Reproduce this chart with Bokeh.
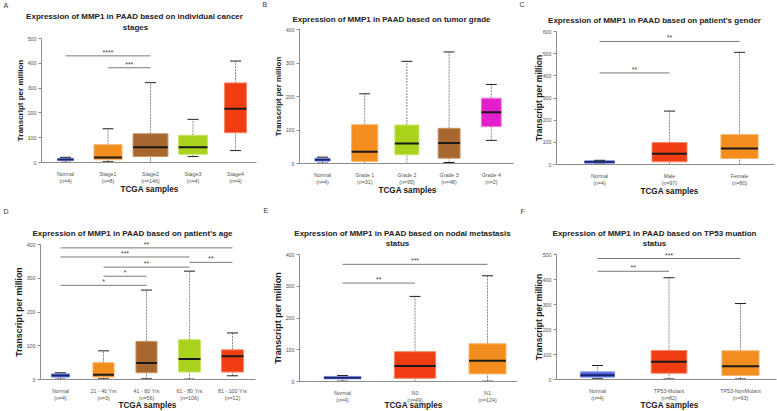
import math
from bokeh.plotting import figure
from bokeh.layouts import column, row
from bokeh.models import Range1d, FixedTicker
from bokeh.embed import file_html
from bokeh.resources import INLINE
from bokeh.core.properties import value

FONT = "Liberation Sans"

# ---- A: individual cancer stages ----
stage_groups = ["Normal", "Stage1", "Stage2", "Stage3", "Stage4"]
stage_n = [4, 8, 146, 4, 4]
stage_low = [1, 3, 0, 24, 48]
stage_q1 = [8, 11, 24, 33, 120]
stage_med = [12, 20, 61, 61, 217]
stage_q3 = [17, 72, 116, 110, 321]
stage_high = [21, 136, 322, 174, 409]
stage_sig_from = [1, 2]
stage_sig_to = [3, 3]
stage_sig_y = [430, 382]
stage_sig_text = ["****", "***"]

# ---- B: tumor grade ----
grade_groups = ["Normal", "Grade 1", "Grade 2", "Grade 3", "Grade 4"]
grade_n = [4, 31, 95, 48, 2]
grade_low = [1, 0, 0, 3, 69]
grade_q1 = [7, 6, 26, 16, 110]
grade_med = [11, 35, 60, 61, 153]
grade_q3 = [16, 116, 115, 105, 195]
grade_high = [19, 208, 305, 333, 236]

# ---- C: gender ----
gender_groups = ["Normal", "Male", "Female"]
gender_n = [4, 97, 80]
gender_low = [1, 0, 0]
gender_q1 = [5, 12, 27]
gender_med = [12, 48, 72]
gender_q3 = [16, 99, 135]
gender_high = [19, 241, 506]
gender_sig_from = [1, 1]
gender_sig_to = [3, 2]
gender_sig_y = [555, 413]
gender_sig_text = ["**", "**"]

# ---- D: age ----
age_groups = ["Normal", "21 - 40 Yrs", "41 - 60 Yrs", "61 - 80 Yrs", "81 - 100 Yrs"]
age_n = [4, 3, 56, 106, 12]
age_low = [1, 2, 2, 1, 11]
age_q1 = [7, 7, 20, 22, 22]
age_med = [12, 14, 49, 61, 69]
age_q3 = [17, 50, 113, 118, 88]
age_high = [20, 85, 265, 321, 138]
age_sig_from = [1, 1, 2, 4, 2, 1]
age_sig_to = [5, 4, 4, 5, 3, 3]
age_sig_y = [390, 363, 333, 347, 306, 279]
age_sig_text = ["**", "***", "**", "**", "*", "*"]

# ---- E: nodal metastasis ----
nodal_groups = ["Normal", "N0", "N1"]
nodal_n = [4, 49, 124]
nodal_low = [1, 0, 1]
nodal_q1 = [8, 10, 24]
nodal_med = [12, 49, 65]
nodal_q3 = [16, 94, 119]
nodal_high = [19, 268, 333]
nodal_sig_from = [1, 1]
nodal_sig_to = [3, 2]
nodal_sig_y = [369, 310]
nodal_sig_text = ["***", "**"]

# ---- F: TP53 mutation ----
tp53_groups = ["Normal", "TP53-Mutant", "TP53-NonMutant"]
tp53_n = [4, 82, 93]
tp53_low = [3, 2, 2]
tp53_q1 = [9, 25, 16]
tp53_med = [17, 71, 53]
tp53_q3 = [31, 116, 115]
tp53_high = [56, 407, 304]
tp53_sig_from = [1, 1]
tp53_sig_to = [3, 2]
tp53_sig_y = [484, 433]
tp53_sig_text = ["***", "**"]

# box styling
FILL = {"normal": "#4a66dc", "orange": "#f28d1e", "brown": "#a8672f",
        "lime": "#a9d21c", "red": "#f03e12", "magenta": "#e21fca"}
EDGE = {"normal": "#9aaaf0", "orange": "#f7b870", "brown": "#c8976a",
        "lime": "#cde46e", "red": "#f68a6c", "magenta": "#ee7ddf"}
MEDIAN = {"normal": "#1b2570"}


def build(letter, title_lines, groups, counts, low, q1, med, q3, high,
          tones, widths, y_end, sig, g):
    """One panel.  The plot frame fills the whole figure; both axes are
    pinned with fixed_location so the layout matches the panel geometry
    given in pixels by `g`."""
    w, h = g["w"], g["h"]
    c1, sp = g["c1"], g["sp"]          # pixel centre of first box, box spacing
    zero, top = g["zero"], g["top"]    # pixel rows of y=0 and y=y_end

    def dx(px):
        return 1 + (px - c1) / sp

    def dy(py):
        return (zero - py) * y_end / (zero - top)

    p = figure(width=w, height=h, x_range=Range1d(dx(0), dx(w)),
               y_range=Range1d(dy(h), dy(0)), output_backend="svg",
               toolbar_location=None, min_border_left=0, min_border_right=0,
               min_border_top=0, min_border_bottom=0)
    p.title.visible = False
    p.outline_line_color = None
    p.xgrid.visible = False
    p.ygrid.visible = False
    p.background_fill_color = "white"
    p.border_fill_color = "white"

    xs = list(range(1, len(groups) + 1))
    fills = [FILL[t] for t in tones]
    edges = [EDGE[t] for t in tones]
    meds = [MEDIAN.get(t, "#1a1a1a") for t in tones]

    # whiskers
    p.segment(x0=xs, y0=low, x1=xs, y1=q1, line_color="#8a8a8a",
              line_width=1, line_dash="2 1")
    p.segment(x0=xs, y0=q3, x1=xs, y1=high, line_color="#8a8a8a",
              line_width=1, line_dash="2 1")
    # boxes
    p.vbar(x=xs, width=widths, bottom=q1, top=q3, fill_color=fills,
           line_color=edges, line_width=1)
    # medians
    p.segment(x0=[x - bw / 2 for x, bw in zip(xs, widths)], y0=med,
              x1=[x + bw / 2 for x, bw in zip(xs, widths)], y1=med,
              line_color=meds, line_width=2)
    # whisker caps
    p.scatter(x=xs + xs, y=list(low) + list(high), marker="dash", size=11,
              line_color="#222222", line_width=1)

    # significance brackets
    if sig is not None:
        s_from, s_to, s_y, s_text = sig
        p.segment(x0=s_from, x1=s_to, y0=s_y, y1=s_y, line_color="#7a7a7a",
                  line_width=1)
        p.text(x=[(a + b) / 2 for a, b in zip(s_from, s_to)], y=s_y,
               text=s_text, text_font=value(FONT), text_font_size="7px",
               text_align="center", text_baseline="bottom",
               text_color="#444444")

    # y axis, pinned at the left edge of the box area
    ax_l, ax_r = g["xaxis"]
    yax = p.yaxis[0]
    yax.fixed_location = dx(ax_l)
    yax.bounds = (0, y_end)
    yax.ticker = FixedTicker(ticks=list(range(0, y_end + 1, 100)))
    yax.major_label_text_font = FONT
    yax.major_label_text_font_size = "5.3px"
    yax.major_label_text_color = "#555555"
    yax.major_label_standoff = 2
    yax.major_tick_out = 3
    yax.major_tick_in = 0
    yax.minor_tick_line_color = None
    yax.axis_line_color = "#8c8c8c"
    yax.major_tick_line_color = "#8c8c8c"

    # x axis along y = 0
    xax = p.xaxis[0]
    xax.fixed_location = 0
    xax.bounds = (dx(ax_l), dx(ax_r))
    xax.ticker = FixedTicker(ticks=xs)
    xax.major_label_overrides = {x: f"{gname}\n(n={n})"
                                 for x, gname, n in zip(xs, groups, counts)}
    xax.major_label_text_font = FONT
    xax.major_label_text_font_size = "5.3px"
    xax.major_label_text_color = "#555555"
    xax.major_label_standoff = 2
    xax.major_tick_line_color = None
    xax.minor_tick_line_color = None
    xax.axis_line_color = "#8c8c8c"

    # axis titles
    yl_x, yl_size = g["ylabel"]
    p.text(x=[dx(yl_x)], y=[y_end / 2], text=["Transcript per million"],
           angle=math.pi / 2, text_font=value(FONT),
           text_font_size=f"{yl_size}px", text_font_style="bold",
           text_color="#1a1a1a", text_align="center", text_baseline="middle")
    xl_x, xl_y = g["xlabel"]
    p.text(x=[dx(xl_x)], y=[dy(xl_y)], text=["TCGA samples"],
           text_font=value(FONT), text_font_size="8.2px",
           text_font_style="bold", text_color="#1a1a1a",
           text_align="center", text_baseline="middle")

    # panel letter and title lines
    lx, ly = g["letter"]
    p.text(x=[dx(lx)], y=[dy(ly)], text=[letter], text_font=value(FONT),
           text_font_size="7px", text_color="#333333",
           text_align="left", text_baseline="middle")
    p.text(x=[dx(tx) for tx, _ in g["title"]], y=[dy(ty) for _, ty in g["title"]],
           text=title_lines, text_font=value(FONT), text_font_size="8px",
           text_font_style="bold", text_color="#222222",
           text_align="center", text_baseline="middle")
    return p


pa = build("A", ["Expression of MMP1 in PAAD based on individual cancer", "stages"],
           stage_groups, stage_n, stage_low, stage_q1, stage_med, stage_q3, stage_high,
           ["normal", "orange", "brown", "lime", "red"],
           [0.38, 0.66, 0.82, 0.68, 0.52], 500,
           (stage_sig_from, stage_sig_to, stage_sig_y, stage_sig_text),
           dict(w=260, h=205, c1=65, sp=42.5, zero=162, top=38, xaxis=(41, 256),
                ylabel=(20, 8), xlabel=(149, 189),
                letter=(3, 5), title=[(134, 16), (135, 27)]))

pb = build("B", ["Expression of MMP1 in PAAD based on tumor grade"],
           grade_groups, grade_n, grade_low, grade_q1, grade_med, grade_q3, grade_high,
           ["normal", "orange", "lime", "brown", "magenta"],
           [0.36, 0.62, 0.57, 0.52, 0.47], 400, None,
           dict(w=257, h=205, c1=62, sp=42.2, zero=163, top=29, xaxis=(39, 253),
                ylabel=(18, 7.8), xlabel=(147, 190),
                letter=(2, 4), title=[(131, 19)]))

pc = build("C", ["Expression of MMP1 in PAAD based on patient's gender"],
           gender_groups, gender_n, gender_low, gender_q1, gender_med, gender_q3, gender_high,
           ["normal", "red", "orange"],
           [0.43, 0.5, 0.53], 600,
           (gender_sig_from, gender_sig_to, gender_sig_y, gender_sig_text),
           dict(w=260, h=205, c1=82, sp=70, zero=164, top=31, xaxis=(39, 257),
                ylabel=(21, 8.5), xlabel=(152, 191),
                letter=(2, 4), title=[(137, 20)]))

pd_ = build("D", ["Expression of MMP1 in PAAD based on patient's age"],
            age_groups, age_n, age_low, age_q1, age_med, age_q3, age_high,
            ["normal", "orange", "brown", "lime", "red"],
            [0.42, 0.49, 0.49, 0.51, 0.51], 400,
            (age_sig_from, age_sig_to, age_sig_y, age_sig_text),
            dict(w=260, h=206, c1=60, sp=43, zero=174, top=39, xaxis=(40, 255),
                 ylabel=(18.5, 8.8), xlabel=(147, 200),
                 letter=(3, 6), title=[(132, 28)]))

pe = build("E", ["Expression of MMP1 in PAAD based on nodal metastasis", "status"],
           nodal_groups, nodal_n, nodal_low, nodal_q1, nodal_med, nodal_q3, nodal_high,
           ["normal", "red", "orange"],
           [0.51, 0.57, 0.51], 400,
           (nodal_sig_from, nodal_sig_to, nodal_sig_y, nodal_sig_text),
           dict(w=257, h=206, c1=82, sp=72.5, zero=176, top=49, xaxis=(39, 257),
                ylabel=(17.5, 9), xlabel=(153, 200),
                letter=(3, 5), title=[(142, 28), (137, 38)]))

pf = build("F", ["Expression of MMP1 in PAAD based on TP53 muation", "status"],
           tp53_groups, tp53_n, tp53_low, tp53_q1, tp53_med, tp53_q3, tp53_high,
           ["normal", "red", "orange"],
           [0.48, 0.5, 0.52], 500,
           (tp53_sig_from, tp53_sig_to, tp53_sig_y, tp53_sig_text),
           dict(w=260, h=206, c1=80, sp=71.5, zero=174, top=49, xaxis=(39, 259),
                ylabel=(21, 8.5), xlabel=(152, 200),
                letter=(3, 6), title=[(137, 28), (137, 38)]))

layout = column(row(pa, pb, pc, spacing=0), row(pd_, pe, pf, spacing=0), spacing=0)
open("out.html", "w").write(file_html(layout, INLINE))
